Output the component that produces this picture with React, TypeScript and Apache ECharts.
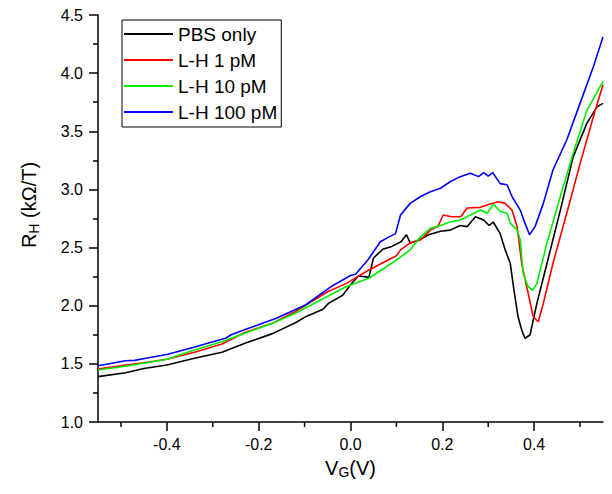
import React, { useEffect, useRef } from "react";
import * as echarts from "echarts";

const seriesNames = ["PBS only", "L-H 1 pM", "L-H 10 pM", "L-H 100 pM"];
const seriesColors = ["#000000", "#ff0000", "#00ee00", "#0000ff"];

const pbsX = [-0.55, -0.49, -0.45, -0.4, -0.34, -0.28, -0.23, -0.17, -0.12, -0.1, -0.06, -0.048, -0.017, 0.0, 0.017, 0.03, 0.04, 0.05, 0.07, 0.09, 0.11, 0.122, 0.13, 0.15, 0.17, 0.196, 0.217, 0.239, 0.254, 0.272, 0.29, 0.302, 0.311, 0.326, 0.337, 0.348, 0.355, 0.365, 0.373, 0.38, 0.391, 0.406, 0.428, 0.457, 0.485, 0.515, 0.537, 0.55];
const pbsY = [1.39, 1.424, 1.46, 1.49, 1.548, 1.6, 1.677, 1.76, 1.854, 1.9, 1.97, 2.02, 2.09, 2.18, 2.255, 2.25, 2.244, 2.41, 2.485, 2.51, 2.55, 2.61, 2.54, 2.565, 2.61, 2.64, 2.65, 2.69, 2.68, 2.765, 2.737, 2.69, 2.72, 2.62, 2.48, 2.365, 2.163, 1.905, 1.79, 1.72, 1.748, 2.02, 2.365, 2.82, 3.28, 3.57, 3.71, 3.74];

const lh1X = [-0.55, -0.49, -0.45, -0.4, -0.34, -0.28, -0.23, -0.17, -0.12, -0.05, -0.01, 0.04, 0.1, 0.109, 0.13, 0.152, 0.174, 0.19, 0.202, 0.22, 0.24, 0.254, 0.283, 0.304, 0.322, 0.337, 0.352, 0.363, 0.373, 0.387, 0.398, 0.409, 0.42, 0.441, 0.471, 0.5, 0.529, 0.55];
const lh1Y = [1.456, 1.49, 1.51, 1.54, 1.6, 1.67, 1.77, 1.85, 1.95, 2.12, 2.19, 2.307, 2.43, 2.48, 2.54, 2.565, 2.65, 2.68, 2.78, 2.765, 2.765, 2.84, 2.846, 2.874, 2.894, 2.88, 2.82, 2.68, 2.36, 2.107, 1.905, 1.862, 2.02, 2.365, 2.795, 3.22, 3.625, 3.9];

const lh10X = [-0.55, -0.49, -0.45, -0.4, -0.34, -0.28, -0.23, -0.17, -0.12, -0.06, -0.01, 0.04, 0.098, 0.109, 0.13, 0.152, 0.174, 0.196, 0.217, 0.239, 0.261, 0.283, 0.298, 0.311, 0.326, 0.341, 0.348, 0.363, 0.37, 0.376, 0.387, 0.397, 0.406, 0.428, 0.457, 0.485, 0.515, 0.55];
const lh10Y = [1.447, 1.48, 1.505, 1.54, 1.619, 1.69, 1.763, 1.85, 1.935, 2.06, 2.163, 2.236, 2.387, 2.42, 2.48, 2.59, 2.665, 2.69, 2.72, 2.737, 2.78, 2.823, 2.795, 2.874, 2.81, 2.795, 2.71, 2.65, 2.565, 2.28, 2.163, 2.135, 2.19, 2.54, 2.94, 3.31, 3.68, 3.93];

const lh100X = [-0.55, -0.49, -0.47, -0.446, -0.4, -0.337, -0.3, -0.272, -0.26, -0.228, -0.163, -0.098, -0.04, 0.0, 0.011, 0.039, 0.065, 0.083, 0.098, 0.109, 0.13, 0.152, 0.174, 0.196, 0.217, 0.239, 0.261, 0.279, 0.29, 0.3, 0.31, 0.326, 0.341, 0.352, 0.37, 0.38, 0.39, 0.402, 0.42, 0.441, 0.471, 0.5, 0.529, 0.55];
const lh100Y = [1.483, 1.527, 1.53, 1.548, 1.58, 1.647, 1.69, 1.72, 1.75, 1.797, 1.89, 2.006, 2.17, 2.26, 2.27, 2.4, 2.55, 2.59, 2.62, 2.78, 2.88, 2.937, 2.98, 3.01, 3.066, 3.11, 3.14, 3.11, 3.144, 3.115, 3.144, 3.05, 3.04, 2.937, 2.82, 2.71, 2.61, 2.68, 2.88, 3.167, 3.425, 3.74, 4.055, 4.31];

const xMajorTicks = [-0.4, -0.2, 0.0, 0.2, 0.4];
const xMinorTicks = [-0.5, -0.3, -0.1, 0.1, 0.3, 0.5];
const yMin = 1;

const FONT = "'Liberation Sans', Arial, sans-serif";

function zip(xs: number[], ys: number[]) {
  return xs.map((x, i) => [x, ys[i]]);
}

export default function App() {
  const ref = useRef<HTMLDivElement>(null);
  useEffect(() => {
    if (!ref.current) return;
    const chart = echarts.init(ref.current, null, { renderer: "svg" });
    const allX = [pbsX, lh1X, lh10X, lh100X];
    const allY = [pbsY, lh1Y, lh10Y, lh100Y];
    const yTitle = {
      type: "text",
      x: 29,
      y: 205,
      rotation: Math.PI / 2,
      style: {
        text: "{r|R}{s|H}{r| (kΩ/T)}",
        align: "center",
        verticalAlign: "middle",
        rich: {
          r: { fontFamily: FONT, fontSize: 20, fill: "#000" },
          s: { fontFamily: FONT, fontSize: 14, fill: "#000", padding: [9, 0, 0, 0] },
        },
      },
    };
    chart.setOption({
      animation: false,
      backgroundColor: "#ffffff",
      grid: { left: 98, top: 15, width: 505, height: 407, containLabel: false },
      legend: {
        orient: "vertical",
        left: 122,
        top: 20,
        padding: [4, 4, 5, 2],
        borderColor: "#000",
        borderWidth: 1,
        icon: "rect",
        itemWidth: 49,
        itemHeight: 2,
        itemGap: 6,
        textStyle: { fontFamily: FONT, fontSize: 19, color: "#000", lineHeight: 20 },
        data: seriesNames,
      },
      xAxis: {
        type: "value",
        min: -0.55,
        max: 0.55,
        name: "{v|V}{s|G}{v|(V)}",
        nameLocation: "middle",
        nameGap: 34,
        nameTextStyle: {
          rich: {
            v: { fontFamily: FONT, fontSize: 20, color: "#000" },
            s: { fontFamily: FONT, fontSize: 14, color: "#000", verticalAlign: "bottom", padding: [9, 0, 0, 0] },
          },
        },
        axisLine: { show: true, onZero: false, lineStyle: { color: "#000", width: 1.5 } },
        axisTick: { show: true, inside: false, length: 9, customValues: xMajorTicks, lineStyle: { color: "#000", width: 1.5 } },
        axisLabel: {
          customValues: xMajorTicks,
          formatter: (v: number) => v.toFixed(1),
          fontFamily: FONT,
          fontSize: 16,
          color: "#000",
          margin: 14,
        },
        splitLine: { show: false },
      },
      yAxis: {
        type: "value",
        min: yMin,
        max: 4.5,
        interval: 0.5,
        axisLine: { show: true, onZero: false, lineStyle: { color: "#000", width: 1.5 } },
        axisTick: { show: true, inside: false, length: 9, lineStyle: { color: "#000", width: 1.5 } },
        minorTick: { show: true, splitNumber: 2, length: 5, lineStyle: { color: "#000", width: 1.5 } },
        axisLabel: {
          formatter: (v: number) => v.toFixed(1),
          fontFamily: FONT,
          fontSize: 16,
          color: "#000",
          margin: 15,
        },
        splitLine: { show: false },
        minorSplitLine: { show: false },
      },
      graphic: [yTitle],
      series: seriesNames.map((name, i) => ({
        name,
        type: "line",
        data: zip(allX[i], allY[i]),
        showSymbol: false,
        symbol: "none",
        lineStyle: { color: seriesColors[i], width: 1.6 },
        itemStyle: { color: seriesColors[i] },
        z: 2 + i,
      })),
    });
    const minorLines = xMinorTicks.map((v) => {
      const p = chart.convertToPixel({ xAxisIndex: 0, yAxisIndex: 0 }, [v, yMin]) as number[];
      return {
        type: "line",
        silent: true,
        shape: { x1: p[0], y1: p[1], x2: p[0], y2: p[1] + 5 },
        style: { stroke: "#000", lineWidth: 1.5 },
      };
    });
    chart.setOption({ graphic: [yTitle, ...minorLines] }, { replaceMerge: ["graphic"] });
    return () => chart.dispose();
  }, []);
  return <div ref={ref} style={{ width: 612, height: 494, margin: -8 }} />;
}
